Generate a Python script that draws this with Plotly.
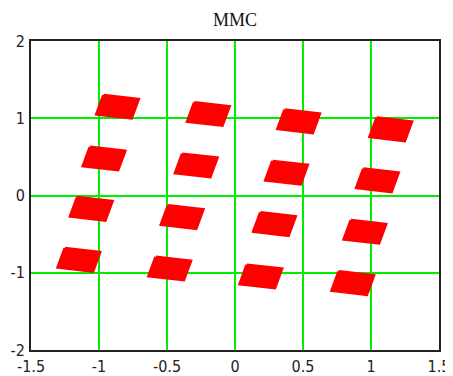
import plotly.graph_objects as go

# Cluster centres (I, Q)
cluster_i = [-0.864, -0.196, 0.468, 1.145,
             -0.963, -0.285, 0.379, 1.047,
             -1.057, -0.389, 0.290, 0.955,
             -1.148, -0.480, 0.190, 0.866]
cluster_q = [1.150, 1.055, 0.960, 0.857,
             0.480, 0.390, 0.296, 0.197,
             -0.172, -0.279, -0.369, -0.468,
             -0.833, -0.944, -1.047, -1.133]

x_ticks = [-1.5, -1, -0.5, 0, 0.5, 1, 1.5]
x_tick_text = ["-1.5", "-1", "-0.5", "0", "0.5", "1", "1.5"]
y_ticks = [-2, -1, 0, 1, 2]
y_tick_text = ["-2", "-1", "0", "1", "2"]

# page body has an 8px default margin; size the figure to fill the rest
OFF = 8
W, H = 453 - OFF, 376 - OFF
ML, MR, MT, MB = 31 - OFF, 14, 41 - OFF, 26
X_RANGE = (-1.5, 1.5)
Y_RANGE = (-2.0, 2.0)
px_x = (W - ML - MR) / (X_RANGE[1] - X_RANGE[0])   # pixels per unit
px_y = (H - MT - MB) / (Y_RANGE[1] - Y_RANGE[0])

# parallelogram cloud shape (edge vectors in pixels, screen coords)
U = (35.0, 4.0)
V = (-7.0, 19.0)
ux, uy = U[0] / px_x, -U[1] / px_y
vx, vy = V[0] / px_x, -V[1] / px_y

xs, ys = [], []
for cx, cy in zip(cluster_i, cluster_q):
    corners = [(-0.5, -0.5), (0.5, -0.5), (0.5, 0.5), (-0.5, 0.5), (-0.5, -0.5)]
    for a, b in corners:
        xs.append(cx + a * ux + b * vx)
        ys.append(cy + a * uy + b * vy)
    xs.append(None)
    ys.append(None)

fig = go.Figure()
fig.add_trace(go.Scatter(
    x=xs, y=ys, mode="lines", fill="toself",
    fillcolor="#ff0000", line=dict(color="#ff0000", width=3),
    hoverinfo="skip", showlegend=False,
))

tick_font = dict(family="Liberation Sans Narrow, DejaVu Sans Condensed, Arial Narrow, sans-serif",
                 size=16, color="#222222")
GREEN = "#00ee00"
fig.update_xaxes(range=list(X_RANGE), tickvals=x_ticks, ticktext=x_tick_text,
                 showgrid=True, gridcolor=GREEN, gridwidth=2,
                 zeroline=True, zerolinecolor=GREEN, zerolinewidth=2,
                 showline=True, linecolor="#222222", linewidth=2, mirror=True,
                 ticks="", tickfont=tick_font, fixedrange=True, automargin=False,
                 ticklabelstandoff=1)
fig.update_yaxes(range=list(Y_RANGE), tickvals=y_ticks, ticktext=y_tick_text,
                 showgrid=True, gridcolor=GREEN, gridwidth=2,
                 zeroline=True, zerolinecolor=GREEN, zerolinewidth=2,
                 showline=True, linecolor="#222222", linewidth=2, mirror=True,
                 ticks="", tickfont=tick_font, fixedrange=True, automargin=False,
                 ticklabelstandoff=1)

fig.update_layout(
    width=W, height=H,
    margin=dict(l=ML, r=MR, t=MT, b=MB, pad=0),
    paper_bgcolor="white", plot_bgcolor="white",
    title=dict(text="MMC", x=(ML + (W - ML - MR) / 2) / W, xanchor="center",
               y=1 - (19.5 - OFF) / H, yanchor="middle", yref="container",
               font=dict(family="Liberation Serif, Times New Roman, serif", size=18, color="#111111")),
)

fig.write_html("out.html")
